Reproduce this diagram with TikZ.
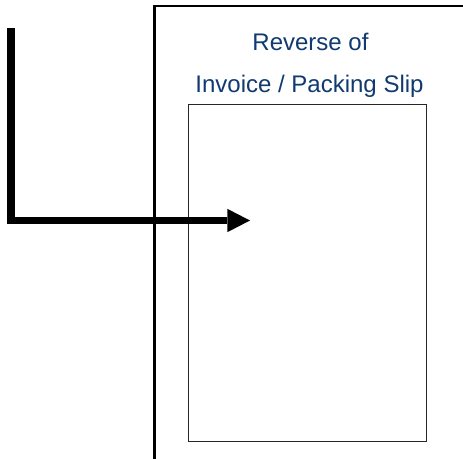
\documentclass[tikz,border=0pt]{standalone}
\usepackage{fontspec}
\setmainfont{Liberation Sans}
\usetikzlibrary{arrows.meta}
\definecolor{titleblue}{RGB}{16,58,112}
\tikzset{
  titletext/.style={anchor=base, inner sep=0pt, text=titleblue, font=\fontsize{24}{28}\selectfont},
  frameline/.style={line width=2.6pt, line join=miter},
  slipbox/.style={draw=black!85, line width=1pt, inner sep=0pt, minimum width=238pt, minimum height=337pt},
  bigarrow/.style={line width=7.5pt, line join=miter, -{Triangle[length=22.7pt,width=23.4pt,line width=0pt]}}
}
\begin{document}
\begin{tikzpicture}[x=1pt,y=-1pt]
\useasboundingbox (0,0) rectangle (463,458);
\fill[white] (0,0) rectangle (463,458);
% outer frame
\coordinate (fbot) at (154.5,460);
\coordinate (fright) at (465,6);
\draw[frameline] (fbot) |- (fright);
% inner slip
\node[slipbox] (slip) at (307,273.3) {};
% titles
\node[titletext] (title1) at (310.5,50) {Reverse of};
\node[titletext] (title2) at (309.5,92.7) {Invoice / Packing Slip};
% arrow
\coordinate (start) at (11,28);
\coordinate (tip) at (250,220.5);
\draw[bigarrow] (start) |- (tip);
\end{tikzpicture}
\end{document}
